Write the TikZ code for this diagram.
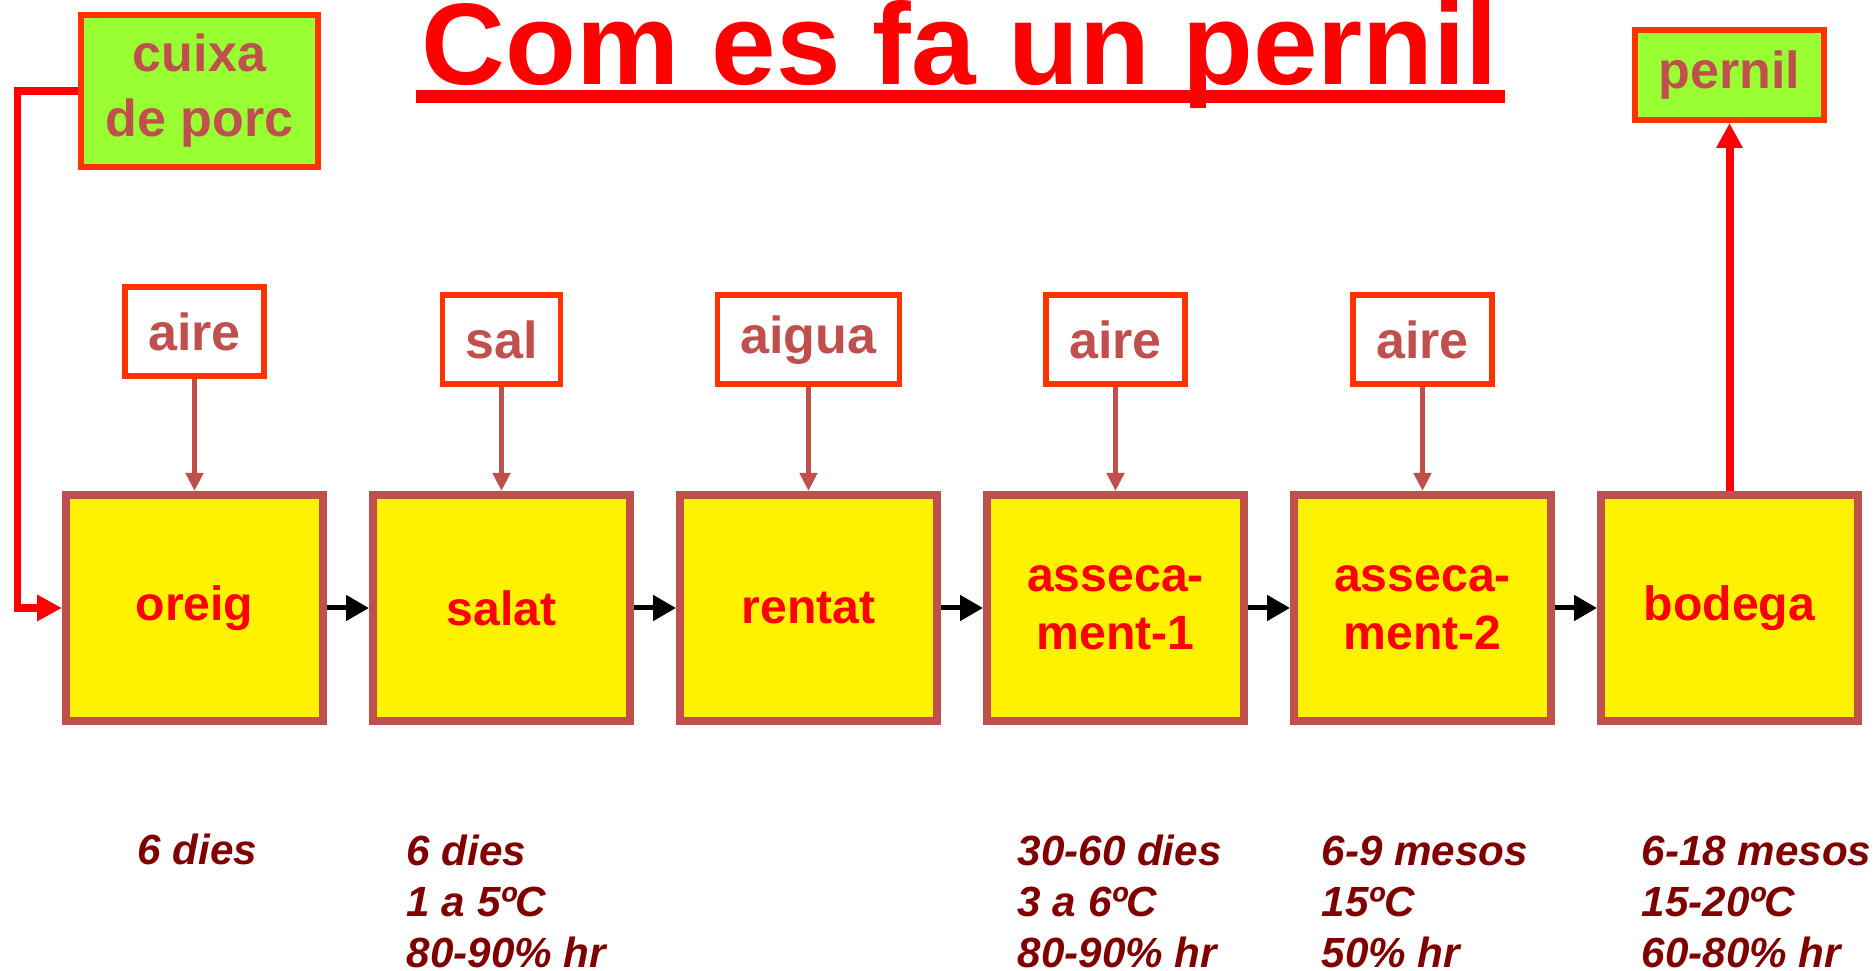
\documentclass[tikz,border=0pt]{standalone}
\usepackage{fontspec}
\setmainfont{Liberation Sans}
\usetikzlibrary{arrows.meta, positioning}

\definecolor{brick}{HTML}{C0504D}
\definecolor{flame}{HTML}{FF3300}
\definecolor{leaf}{HTML}{99FF33}
\definecolor{wine}{HTML}{800000}

\begin{document}
\begin{tikzpicture}[
    stage/.style={draw=brick, fill=yellow, line width=0.08cm, minimum width=2.57cm, minimum height=2.26cm, inner sep=0, align=center, text=red, font=\fontsize{13.7}{16.4}\selectfont\bfseries},
    input/.style={draw=flame, fill=white, line width=0.055cm, minimum height=0.89cm, inner xsep=0.23cm, text=brick, font=\fontsize{14.8}{18.5}\selectfont\bfseries},
    product/.style={input, fill=leaf, align=center, inner sep=0},
    note/.style={anchor=base west, align=left, inner sep=0, text=wine, font=\fontsize{12}{14.6}\selectfont\bfseries\itshape},
    feed/.style={-{Triangle[length=0.18cm,width=0.17cm]}, brick, line width=0.055cm},
    pass/.style={-{Triangle[length=0.23cm,width=0.25cm]}, black, line width=0.05cm},
    flow/.style={-{Triangle[length=0.25cm,width=0.25cm]}, red, line width=0.075cm}
  ]
  \useasboundingbox (0,0) rectangle (18.75,-9.71);

  % title
  \node[anchor=base, text=red, font=\fontsize{33}{40}\selectfont\bfseries] (title) at (9.60,-0.845) {Com es fa un pernil};
  \fill[red] (4.16,-0.90) rectangle (15.05,-1.03);

  % stages
  \node[stage] (oreig) at (1.945,-6.08) {oreig};
  \node[stage, right=0.42cm of oreig] (salat) {salat};
  \node[stage, right=0.42cm of salat] (rentat) {rentat};
  \node[stage, right=0.42cm of rentat] (asseca1) {asseca-\\ment-1};
  \node[stage, right=0.42cm of asseca1] (asseca2) {asseca-\\ment-2};
  \node[stage, right=0.42cm of asseca2] (bodega) {bodega};

  % inputs
  \node[input, above=1.12cm of oreig] (aire1) {aire};
  \node[input, above=1.04cm of salat] (sal) {sal};
  \node[input, above=1.04cm of rentat] (aigua) {aigua};
  \node[input, above=1.04cm of asseca1] (aire4) {aire};
  \node[input, above=1.04cm of asseca2] (aire5) {aire};

  \node[product, minimum width=2.37cm, minimum height=1.52cm] (cuixa) at (1.995,-0.91) {cuixa\\de porc};
  \node[product, minimum width=1.89cm, minimum height=0.90cm, above=3.68cm of bodega] (pernil) {pernil};

  \draw[feed] (aire1) -- (oreig);
  \draw[feed] (sal) -- (salat);
  \draw[feed] (aigua) -- (rentat);
  \draw[feed] (aire4) -- (asseca1);
  \draw[feed] (aire5) -- (asseca2);

  \draw[pass] (oreig) -- (salat);
  \draw[pass] (salat) -- (rentat);
  \draw[pass] (rentat) -- (asseca1);
  \draw[pass] (asseca1) -- (asseca2);
  \draw[pass] (asseca2) -- (bodega);

  \coordinate (corner) at (0.175,0);
  \draw[flow] (cuixa.west) -- (corner |- cuixa.west) |- (oreig.west);
  \draw[flow, line width=0.08cm] (bodega) -- (pernil);

  % conditions (base = last line)
  \node[note] (t1) at (1.37,-8.65) {6 dies};
  \node[note] (t2) at (4.06,-9.68) {6 dies\\1 a 5ºC\\80-90\% hr};
  \node[note] (t4) at (10.17,-9.68) {30-60 dies\\3 a 6ºC\\80-90\% hr};
  \node[note] (t5) at (13.21,-9.68) {6-9 mesos\\15ºC\\50\% hr};
  \node[note] (t6) at (16.41,-9.68) {6-18 mesos\\15-20ºC\\60-80\% hr};
\end{tikzpicture}
\end{document}
